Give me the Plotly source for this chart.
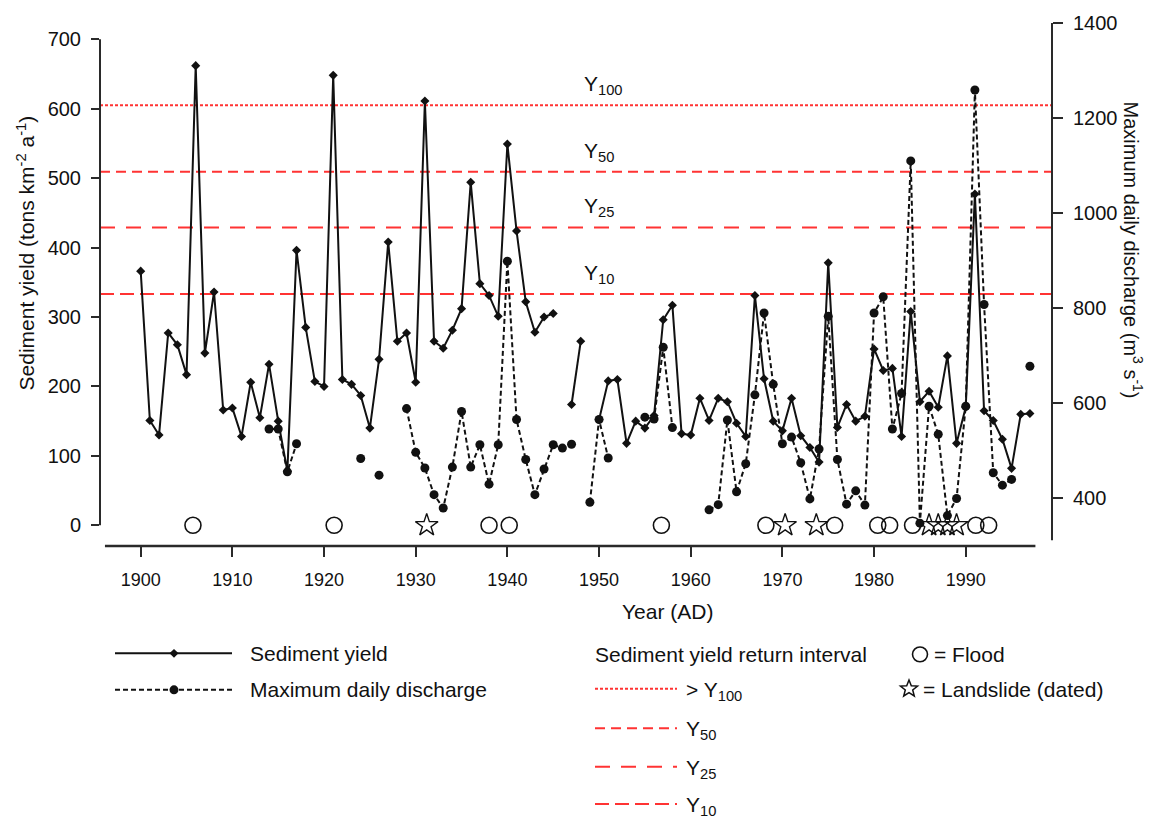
import math
import plotly.graph_objects as go

# ---------------- data ----------------
sed_years = list(range(1900, 1998))
sediment_yield = [
    366, 151, 130, 277, 260, 217, 662, 248, 336, 166,   # 1900-1909
    169, 128, 206, 155, 232, 150, 78, 396, 285, 207,    # 1910-1919
    200, 648, 210, 203, 187, 140, 239, 408, 265, 277,   # 1920-1929
    206, 611, 265, 255, 281, 312, 494, 348, 331, 301,   # 1930-1939
    549, 424, 322, 278, 300, 305, None, 174, 265, None,  # 1940-1949
    152, 208, 210, 118, 150, 140, 158, 296, 317, 132,   # 1950-1959
    130, 183, 151, 183, 178, 147, 128, 331, 211, 150,   # 1960-1969
    136, 183, 129, 112, 91, 378, 141, 174, 150, 157,    # 1970-1979
    254, 223, 226, 128, 308, 178, 193, 170, 244, 118,   # 1980-1989
    170, 477, 165, 151, 124, 82, 160, 161,              # 1990-1997
]

q_years = list(range(1914, 1998))
max_daily_discharge = [
    546, 546, 456, 515, None, None,                      # 1914-1919
    None, None, None, None, 484, None, 449, None, None, 589,  # 1920-1929
    497, 464, 408, 380, 466, 583, 466, 513, 430, 513,    # 1930-1939
    899, 566, 482, 408, 462, 513, 506, 514, None, 392,   # 1940-1949
    566, 485, None, None, None, 571, 567, 718, 549, None,  # 1950-1959
    None, None, 376, 387, 565, 414, 473, 618, 790, 640,  # 1960-1969
    515, 529, 475, 399, 504, 783, 482, 388, 416, 386,    # 1970-1979
    790, 824, 546, 621, 1110, 348, 594, 535, 364, 400,   # 1980-1989
    594, 1259, 808, 454, 428, 440, None, 678,            # 1990-1997
]

flood_years = [1905.7, 1921.1, 1938.0, 1940.2, 1956.8, 1968.2, 1975.7,
               1980.4, 1981.7, 1984.2, 1991.1, 1992.5]
landslide_years = [1931.2, 1970.3, 1973.7, 1986.0, 1987.0, 1988.0, 1989.0]

# sediment yield return-interval thresholds (tons km-2 a-1)
return_labels = ["100", "50", "25", "10"]
return_values = [605, 509, 429, 333]
return_dashes = ["3px,2px", "10px,6px", "15px,11px", "14px,6px"]

# ---------------- styling ----------------
FONT = "Liberation Sans, Arial, Helvetica, sans-serif"
RED = "#ff3333"
INK = "#111111"
AXIS = "#2a2a2a"
Q_DASH = "5px,3px"

# plot area in pixels (used to place the hand-drawn legend)
L, R, T, B = 100, 1052, 15, 546


def px(x):
    return (x - L) / (R - L)


def py(y):
    return (B - y) / (B - T)


fig = go.Figure()

fig.add_trace(go.Scatter(
    x=sed_years, y=sediment_yield, mode="lines+markers", connectgaps=False,
    line=dict(color=INK, width=2),
    marker=dict(symbol="diamond", size=7, color=INK),
    name="Sediment yield", yaxis="y"))

fig.add_trace(go.Scatter(
    x=q_years, y=max_daily_discharge, mode="lines+markers", connectgaps=False,
    line=dict(color=INK, width=2, dash=Q_DASH),
    marker=dict(symbol="circle", size=9, color=INK),
    name="Maximum daily discharge", yaxis="y2"))

fig.add_trace(go.Scatter(
    x=flood_years, y=[0] * len(flood_years), mode="markers",
    marker=dict(symbol="circle-open", size=16, color=INK, line=dict(width=1.6)),
    name="Flood", yaxis="y"))

fig.add_trace(go.Scatter(
    x=landslide_years, y=[0] * len(landslide_years), mode="markers",
    marker=dict(symbol="star-open", size=17, color=INK, line=dict(width=1.4)),
    name="Landslide (dated)", yaxis="y"))

shapes = []
annotations = []

# return-interval lines across the plot, with labels
for lab, val, dsh in zip(return_labels, return_values, return_dashes):
    shapes.append(dict(type="line", xref="paper", x0=0, x1=1, yref="y",
                       y0=val, y1=val, layer="below",
                       line=dict(color=RED, width=2, dash=dsh)))
    annotations.append(dict(xref="paper", x=px(582), yref="y", y=val,
                            xanchor="left", yanchor="bottom", yshift=5,
                            text=f"Y<sub>{lab}</sub>", showarrow=False,
                            font=dict(family=FONT, size=21, color=INK)))

# axis lines
shapes.append(dict(type="line", xref="paper", x0=0, x1=0, yref="y", y0=0, y1=700,
                   line=dict(color=AXIS, width=2)))
shapes.append(dict(type="line", xref="paper", x0=1, x1=1, yref="y2", y0=312, y1=1400,
                   line=dict(color=AXIS, width=2)))
shapes.append(dict(type="line", xref="x", x0=1896.1, x1=1997.6, yref="paper", y0=0, y1=0,
                   line=dict(color=AXIS, width=2.5)))

# axis titles
TITLE = dict(family=FONT, size=21, color=INK)
annotations.append(dict(xref="paper", x=px(26), yref="paper", y=py(249),
                        xanchor="center", yanchor="middle",
                        text="Sediment yield (tons km<sup>-2</sup> a<sup>-1</sup>)",
                        textangle=-90, showarrow=False, font=TITLE))
annotations.append(dict(xref="paper", x=px(1133), yref="paper", y=py(245),
                        xanchor="center", yanchor="middle",
                        text="Maximum daily discharge (m<sup>3</sup> s<sup>-1</sup>)",
                        textangle=90, showarrow=False,
                        font=dict(family=FONT, size=20, color=INK)))
annotations.append(dict(xref="paper", x=px(667), yref="paper", y=py(612),
                        xanchor="center", yanchor="middle",
                        text="Year (AD)", showarrow=False, font=TITLE))

# ---------------- legend ----------------
LEG = dict(family=FONT, size=21, color=INK)


def leg_text(x, y, text):
    annotations.append(dict(xref="paper", x=px(x), yref="paper", y=py(y),
                            xanchor="left", yanchor="middle", text=text,
                            showarrow=False, font=LEG))


def leg_line(x0, x1, y, color, dash, width=2):
    shapes.append(dict(type="line", xref="paper", x0=px(x0), x1=px(x1),
                       yref="paper", y0=py(y), y1=py(y),
                       line=dict(color=color, width=width, dash=dash)))


def leg_path(points, fill, line_width=0):
    d = "M " + " L ".join(f"{px(a):.5f},{py(b):.5f}" for a, b in points) + " Z"
    shapes.append(dict(type="path", xref="paper", yref="paper", path=d,
                       fillcolor=fill, line=dict(color=INK, width=line_width)))


def leg_circle(cx, cy, r, fill, line_width):
    shapes.append(dict(type="circle", xref="paper", yref="paper",
                       x0=px(cx - r), x1=px(cx + r), y0=py(cy + r), y1=py(cy - r),
                       fillcolor=fill, line=dict(color=INK, width=line_width)))


# solid line with diamond
leg_line(115, 232, 655, INK, "solid")
leg_path([(174, 650.5), (178.5, 655), (174, 659.5), (169.5, 655)], INK)
leg_text(248, 655, "Sediment yield")

# dashed line with dot
leg_line(115, 232, 692, INK, Q_DASH)
leg_circle(174, 692, 4.5, INK, 0)
leg_text(248, 692, "Maximum daily discharge")

leg_text(593, 656, "Sediment yield return interval")
leg_rows = [691, 731, 770, 808]
for lab, dsh, yy in zip(return_labels, return_dashes, leg_rows):
    leg_line(595, 677, yy, RED, dsh)
    prefix = "> " if lab == "100" else ""
    leg_text(684, yy + 2, f"{prefix}Y<sub>{lab}</sub>")

# open circle = flood
leg_circle(920, 656, 7.5, "rgba(0,0,0,0)", 1.6)
leg_text(932, 656, "= Flood")

# open star = landslide
star_cx, star_cy, r_out, r_in = 909, 691, 9.0, 3.9
star_pts = []
for k in range(10):
    ang = math.pi / 2 + k * math.pi / 5
    rr = r_out if k % 2 == 0 else r_in
    star_pts.append((star_cx + rr * math.cos(ang), star_cy - rr * math.sin(ang)))
leg_path(star_pts, "rgba(0,0,0,0)", 1.5)
leg_text(921, 692, "= Landslide (dated)")

axis_common = dict(showgrid=False, zeroline=False, showline=False,
                   ticks="outside", tickwidth=2, tickcolor=AXIS)

fig.update_layout(
    width=1151, height=825,
    margin=dict(l=L, r=1151 - R, t=T, b=825 - B),
    plot_bgcolor="white", paper_bgcolor="white",
    showlegend=False,
    font=dict(family=FONT, color=INK),
    shapes=shapes, annotations=annotations,
    xaxis=dict(range=[1895.56, 1999.41], tickmode="linear", tick0=1900, dtick=10,
               ticklen=10, ticklabelstandoff=7,
               tickfont=dict(family=FONT, size=18, color=INK), **axis_common),
    yaxis=dict(range=[-29.8, 723.4], tickmode="linear", tick0=0, dtick=100,
               ticklen=8, ticklabelstandoff=6,
               tickfont=dict(family=FONT, size=20, color=INK), **axis_common),
    yaxis2=dict(range=[300, 1400], overlaying="y", side="right",
                tickmode="linear", tick0=400, dtick=200,
                ticklen=10, ticklabelstandoff=6,
                tickfont=dict(family=FONT, size=20, color=INK), **axis_common),
)

fig.write_html("out.html")
